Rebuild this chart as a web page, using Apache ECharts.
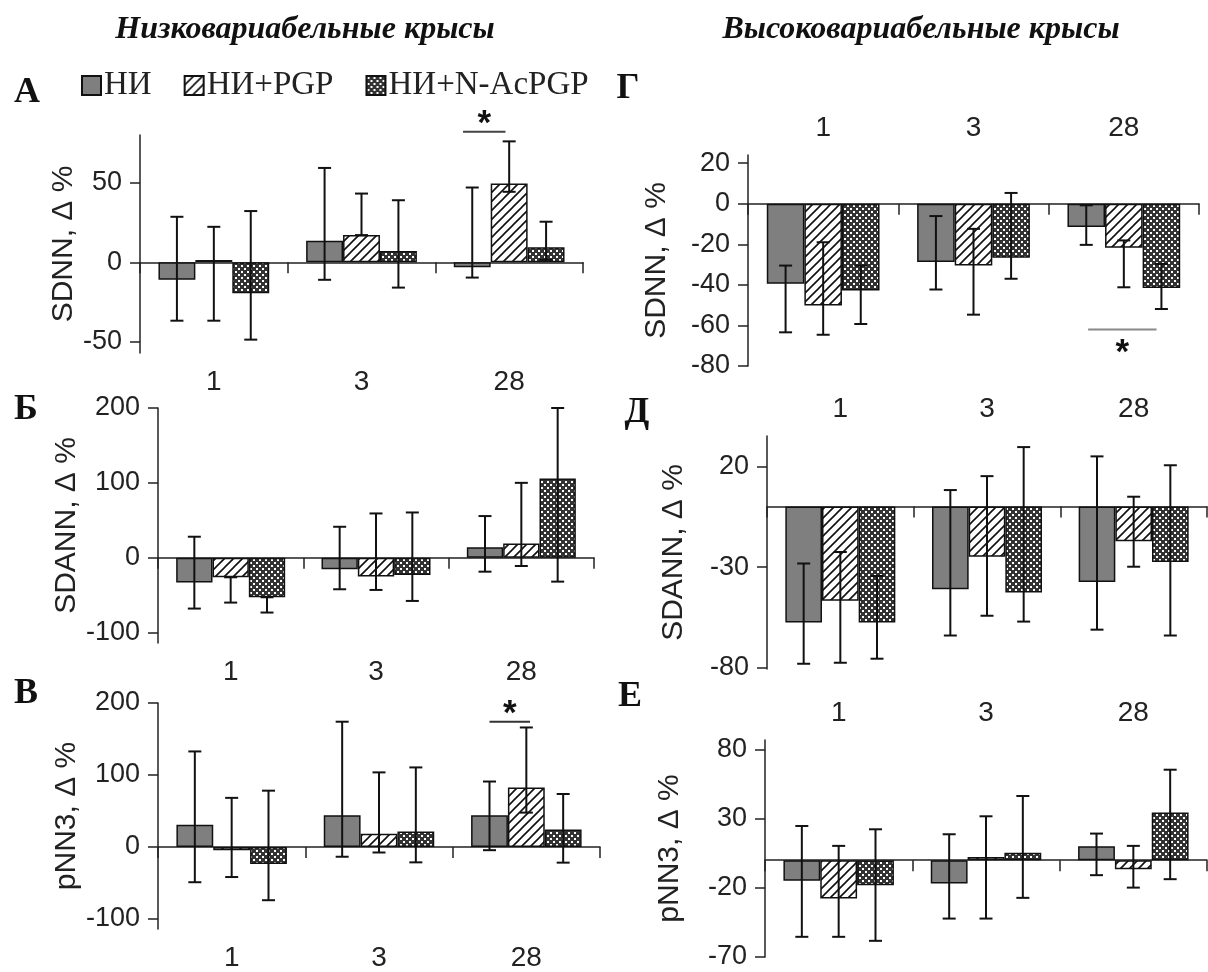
<!DOCTYPE html>
<html>
<head>
<meta charset="utf-8">
<script src="https://cdn.jsdelivr.net/npm/echarts@6/dist/echarts.min.js"></script>
<style>
  html, body { margin: 0; padding: 0; background: #fff; }
  #main { width: 1208px; height: 972px; }
</style>
</head>
<body>
<div id="main"></div>
<script>
  // категории и группы
  const days = ['1', '3', '28']
  const groups = ['НИ', 'НИ+PGP', 'НИ+N-AcPGP']

  // А: SDNN, низковариабельные  (строки: НИ, НИ+PGP, НИ+N-AcPGP)
  const aMean = [[-11, 13.6, -3.1], [1.5, 17.1, 49.5], [-19.4, 7.1, 9.4]]
  const aLow = [[-36.7, -11, -9.6], [-36.7, 17.1, 44.3], [-48.6, -15.9, 1.5]]
  const aHigh = [[28.6, 59.3, 47], [22.3, 43.2, 76], [32.2, 39, 25.5]]
  const aTicks = [-50, 0, 50]

  // Б: SDANN, низковариабельные
  const bMean = [[-33.3, -15.6, 13.8], [-26.2, -25.3, 19.1], [-52.9, -23.1, 105.8]]
  const bLow = [[-68, -42.2, -18.7], [-60, -43.1, -11.1], [-73.3, -57.8, -32]]
  const bHigh = [[28, 41.3, 55.6], [-26.2, 59.1, 100], [-52.9, 60.4, 200]]
  const bTicks = [-100, 0, 100, 200]

  // В: pNN3, низковариабельные
  const vMean = [[30.9, 44, 44], [-4.5, 18.2, 82.7], [-23.6, 21.4, 24.1]]
  const vLow = [[-49, -13.6, -4.5], [-41.8, -7.7, 47.7], [-74, -21.4, -21.8]]
  const vHigh = [[132.7, 174, 90.9], [68.2, 103.6, 166], [78.2, 110.5, 73.6]]
  const vTicks = [-100, 0, 100, 200]

  // Г: SDNN, высоковариабельные
  const gMean = [[-39.5, -28.8, -11.5], [-50.2, -30.5, -21.7], [-42.8, -26.7, -41.5]]
  const gLow = [[-63.4, -42.3, -20.3], [-64.6, -54.7, -41.2], [-59.3, -37, -51.9]]
  const gHigh = [[-30.5, -6.1, -0.8], [-19, -12.4, -18.1], [-30.5, 5.3, -29.7]]
  const gTicks = [-80, -60, -40, -20, 0, 20]

  // Д: SDANN, высоковариабельные
  const dMean = [[-57.4, -41, -37.4], [-46.7, -24.9, -17.2], [-57.4, -42.6, -27.5]]
  const dLow = [[-77.9, -63.9, -61], [-77.4, -54.1, -29.8], [-75.4, -57, -63.9]]
  const dHigh = [[-28.2, 8.2, 24.9], [-22.5, 15.1, 4.9], [-34.4, 29.5, 20.5]]
  const dTicks = [-80, -30, 20]

  // Е: pNN3, высоковариабельные
  const eMean = [[-14.9, -16.9, 10.1], [-27.7, 2.4, -6.5], [-18.1, 5.5, 34.5]]
  const eLow = [[-55.4, -42.2, -10.8], [-55.4, -42.2, -19.8], [-58.3, -27.2, -13.7]]
  const eHigh = [[24.8, 18.8, 19.3], [10.4, 31.8, 10.4], [22.4, 46.5, 65.5]]
  const eTicks = [-70, -20, 30, 80]

  // значимые различия: [день, уровень]
  const sigA = [[2, 82]]
  const sigV = [[2, 174]]
  const sigG = [[2, -62]]

  const panels = [
    { mean: aMean, low: aLow, high: aHigh, ticks: aTicks, name: 'SDNN, Δ %', min: -57, max: 80,
      grid: { left: 140, top: 135, width: 443, height: 218 }, nameGap: 60, labelPos: 'bottom' },
    { mean: bMean, low: bLow, high: bHigh, ticks: bTicks, name: 'SDANN, Δ %', min: -114, max: 200,
      grid: { left: 158, top: 408, width: 436, height: 235 }, nameGap: 76, labelPos: 'bottom' },
    { mean: vMean, low: vLow, high: vHigh, ticks: vTicks, name: 'pNN3, Δ %', min: -114, max: 200,
      grid: { left: 158, top: 703, width: 442, height: 230 }, nameGap: 74, labelPos: 'bottom' },
    { mean: gMean, low: gLow, high: gHigh, ticks: gTicks, name: 'SDNN, Δ %', min: -80, max: 24,
      grid: { left: 748, top: 155, width: 451, height: 211 }, nameGap: 76, labelPos: 'top' },
    { mean: dMean, low: dLow, high: dHigh, ticks: dTicks, name: 'SDANN, Δ %', min: -80.5, max: 35,
      grid: { left: 767, top: 436, width: 440, height: 233 }, nameGap: 78, labelPos: 'top' },
    { mean: eMean, low: eLow, high: eHigh, ticks: eTicks, name: 'pNN3, Δ %', min: -70, max: 87,
      grid: { left: 765, top: 740, width: 442, height: 217 }, nameGap: 80, labelPos: 'top' }
  ]

  function hatchPattern () {
    const c = document.createElement('canvas')
    c.width = 9
    c.height = 9
    const g = c.getContext('2d')
    g.fillStyle = '#fff'
    g.fillRect(0, 0, 9, 9)
    g.strokeStyle = '#111'
    g.lineWidth = 1.6
    g.beginPath()
    g.moveTo(-1, 10); g.lineTo(10, -1)
    g.moveTo(-1, 1); g.lineTo(1, -1)
    g.moveTo(8, 10); g.lineTo(10, 8)
    g.stroke()
    return c
  }

  function checkerPattern () {
    const c = document.createElement('canvas')
    c.width = 6
    c.height = 6
    const g = c.getContext('2d')
    g.fillStyle = '#333'
    g.fillRect(0, 0, 6, 6)
    g.fillStyle = '#fff'
    g.fillRect(1, 1, 2, 2)
    g.fillRect(4, 4, 2, 2)
    return c
  }

  const fills = ['#7f7f7f', { image: hatchPattern(), repeat: 'repeat' }, { image: checkerPattern(), repeat: 'repeat' }]
  const sansFont = 'Liberation Sans'
  const serifFont = 'Liberation Serif'

  function errRender (k) {
    return function (params, api) {
      const band = api.size([1, 0])[0]
      const bw = band * 0.75 / 3
      const lo = api.coord([api.value(0), api.value(1)])
      const hi = api.coord([api.value(0), api.value(2)])
      const x = lo[0] + (k - 1) * bw
      const style = { stroke: '#111', lineWidth: 2 }
      return {
        type: 'group',
        children: [
          { type: 'line', shape: { x1: x, y1: lo[1], x2: x, y2: hi[1] }, style },
          { type: 'line', shape: { x1: x - 6.5, y1: lo[1], x2: x + 6.5, y2: lo[1] }, style },
          { type: 'line', shape: { x1: x - 6.5, y1: hi[1], x2: x + 6.5, y2: hi[1] }, style }
        ]
      }
    }
  }

  // линия значимости между двумя столбцами, звёздочка сверху или снизу
  function sigRender (from, to, below, color) {
    return function (params, api) {
      const band = api.size([1, 0])[0]
      const bw = band * 0.75 / 3
      const p = api.coord([api.value(0), api.value(1)])
      const x1 = p[0] + from * bw
      const x2 = p[0] + to * bw
      return {
        type: 'group',
        children: [
          { type: 'line', shape: { x1, y1: p[1], x2, y2: p[1] }, style: { stroke: color, lineWidth: 2 } },
          { type: 'text', x: (x1 + x2) / 2, y: below ? p[1] + 24 : p[1] - 7,
            style: { text: '*', fontSize: 35, fontWeight: 'bold', fontFamily: sansFont, fill: '#111', align: 'center', verticalAlign: 'middle' } }
        ]
      }
    }
  }

  const grid = []
  const xAxis = []
  const yAxis = []
  const series = []

  panels.forEach((p, i) => {
    grid.push(Object.assign({ containLabel: false }, p.grid))
    // ось на нуле
    xAxis.push({
      type: 'category', gridIndex: i, data: days, position: 'bottom',
      axisLine: { onZero: true, lineStyle: { color: '#222', width: 1.5 } },
      axisTick: { show: true, length: 11, interval: 0, lineStyle: { color: '#222', width: 1.5 } },
      axisLabel: { show: false }, splitLine: { show: false }
    })
    // подписи дней
    xAxis.push({
      type: 'category', gridIndex: i, data: days, position: p.labelPos,
      axisLine: { show: false, onZero: false }, axisTick: { show: false },
      axisLabel: { show: true, margin: p.labelPos === 'bottom' ? 15 : 13, fontSize: 28, fontFamily: sansFont, color: '#222' },
      splitLine: { show: false }
    })
    yAxis.push({
      type: 'value', gridIndex: i, min: p.min, max: p.max,
      name: p.name, nameLocation: 'middle', nameRotate: 90, nameGap: p.nameGap,
      nameTextStyle: { fontSize: 30, fontFamily: sansFont, color: '#222' },
      axisLine: { show: true, lineStyle: { color: '#222', width: 1.5 } },
      axisTick: { show: true, length: 10, customValues: p.ticks, lineStyle: { color: '#222', width: 1.5 } },
      axisLabel: { show: true, margin: 18, customValues: p.ticks, fontSize: 27, fontFamily: sansFont, color: '#222' },
      splitLine: { show: false }
    })
    for (let k = 0; k < 3; k++) {
      series.push({
        type: 'bar', name: groups[k], xAxisIndex: 2 * i, yAxisIndex: i,
        data: p.mean[k], barGap: '0%', barCategoryGap: '25%',
        itemStyle: { color: fills[k], borderColor: '#111', borderWidth: 1.5 }
      })
    }
    for (let k = 0; k < 3; k++) {
      series.push({
        type: 'custom', xAxisIndex: 2 * i, yAxisIndex: i, z: 5, clip: false,
        renderItem: errRender(k),
        data: days.map((d, j) => [j, p.low[k][j], p.high[k][j]])
      })
    }
  })

  series.push({ type: 'custom', xAxisIndex: 0, yAxisIndex: 0, z: 6, clip: false, renderItem: sigRender(-1.25, -0.1, false, '#444'), data: sigA })
  series.push({ type: 'custom', xAxisIndex: 4, yAxisIndex: 2, z: 6, clip: false, renderItem: sigRender(-1.0, 0.1, false, '#333'), data: sigV })
  series.push({ type: 'custom', xAxisIndex: 6, yAxisIndex: 3, z: 6, clip: false, renderItem: sigRender(-0.95, 0.87, true, '#888'), data: sigG })

  function label (text, x, y, size, style) {
    return {
      type: 'text', x, y,
      style: { text, fontSize: size, fontFamily: serifFont, fontWeight: 'bold', fontStyle: style || 'normal', fill: '#111', align: 'center', verticalAlign: 'middle' }
    }
  }

  const myChart = echarts.init(document.getElementById('main'))
  myChart.setOption({
    animation: false,
    backgroundColor: '#fff',
    legend: {
      data: groups, left: 76, top: 64, itemWidth: 19, itemHeight: 19, itemGap: 32,
      selectedMode: false, icon: 'rect',
      textStyle: { fontSize: 33, fontFamily: serifFont, color: '#222', padding: [0, 0, 0, -2] }
    },
    graphic: [
      label('Низковариабельные крысы', 305, 30, 32, 'italic'),
      label('Высоковариабельные крысы', 921, 30, 32, 'italic'),
      label('А', 27, 93, 36),
      label('Б', 26, 410, 36),
      label('В', 26, 694, 36),
      label('Г', 628, 89, 36),
      label('Д', 637, 413, 36),
      label('Е', 630, 697, 36)
    ],
    grid,
    xAxis,
    yAxis,
    series
  })
</script>
</body>
</html>
